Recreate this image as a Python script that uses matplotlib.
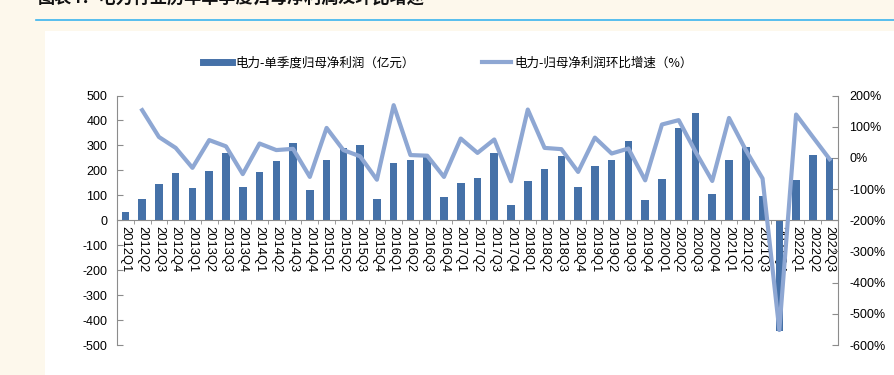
import numpy as np
import matplotlib
matplotlib.use("Agg")
import matplotlib.pyplot as plt
from matplotlib.patches import Rectangle
from matplotlib.lines import Line2D
from matplotlib.ticker import FuncFormatter

plt.rcParams['font.family'] = ['Liberation Sans', 'Noto Sans CJK SC', 'DejaVu Sans']
plt.rcParams['axes.unicode_minus'] = False

quarters = [f"{y}Q{q}" for y in range(2012, 2022) for q in range(1, 5)] + ["2022Q1", "2022Q2", "2022Q3"]

profit = [33, 87, 144, 191, 128, 199, 271, 134, 194, 239, 309, 123,
          243, 291, 303, 86, 230, 243, 254, 92, 148, 170, 270, 61,
          156, 205, 258, 132, 219, 243, 317, 80, 167, 370, 430, 106,
          241, 293, 98, -442, 162, 262, 251]

# QoQ growth (%), starting 2012Q2
growth = [153, 67, 32, -32, 57, 37, -52, 46, 25, 29, -61,
          96, 25, 5, -70, 169, 9, 7, -61, 62, 16, 59, -75,
          155, 32, 28, -45, 65, 14, 30, -72, 107, 121, 20, -74,
          128, 25, -66, -552, 139, 67, -4]

title = "图表4：电力行业历年单季度归母净利润及环比增速"
label_bar = "电力-单季度归母净利润（亿元）"
label_line = "电力-归母净利润环比增速（%）"

bar_color = '#4571A8'
line_color = '#8EA7D3'
gray = '#8C8C8C'

W, H = 894, 375
fig = plt.figure(figsize=(W / 100, H / 100), dpi=100, facecolor='#FDF8EC')
fig.patches.append(Rectangle((45 / W, 0), 1 - 45 / W, 1 - 31 / H, transform=fig.transFigure,
                             facecolor='white', edgecolor='none', zorder=-10))
fig.add_artist(Line2D([36 / W, 1], [1 - 20 / H] * 2, transform=fig.transFigure, color='#3AB4EE', lw=1.2))
fig.text(38 / W, 1 + 2 / H, title, fontsize=12.3, fontweight='bold', style='italic',
         va='center', ha='left', family=['Noto Sans CJK SC', 'DejaVu Sans'], color='#111111')

ax = fig.add_axes([117 / W, 1 - 345 / H, (838 - 117) / W, (345 - 95.5) / H])
ax.patch.set_visible(False)
x = np.arange(len(quarters))
ax.bar(x, profit, width=0.45, color=bar_color, zorder=2)
ax.set_xlim(-0.5, len(quarters) - 0.5)
ax.set_ylim(-500, 500)
ax.set_yticks(np.arange(-500, 501, 100))
ax.spines['top'].set_visible(False)
ax.spines['right'].set_visible(False)
ax.spines['bottom'].set_position(('data', 0))
ax.spines['bottom'].set_color(gray)
ax.spines['left'].set_color(gray)
ax.set_xticks(x)
ax.set_xticklabels(quarters, rotation=270, fontsize=9.3, ha='center', va='top')
ax.set_xticks(np.arange(0.5, len(quarters) - 1, 1), minor=True)
ax.tick_params(axis='x', which='major', length=0, pad=4.5)
ax.tick_params(axis='x', which='minor', length=3, direction='out', color=gray)
ax.tick_params(axis='y', direction='in', length=4, color=gray, labelsize=9, pad=7)

ax2 = ax.twinx()
ax2.patch.set_visible(False)
ax2.plot(x[1:], growth, color=line_color, lw=3, solid_joinstyle='round', zorder=3)
ax2.set_ylim(-600, 200)
ax2.set_yticks(np.arange(-600, 201, 100))
ax2.yaxis.set_major_formatter(FuncFormatter(lambda v, p: f"{int(v)}%"))
for s in ['top', 'left', 'bottom']:
    ax2.spines[s].set_visible(False)
ax2.spines['right'].set_color(gray)
ax2.tick_params(axis='y', direction='in', length=4, color=gray, labelsize=9, pad=8)

handles = [Line2D([], [], color=bar_color, lw=5), Line2D([], [], color=line_color, lw=3)]
fig.legend(handles, [label_bar, label_line], loc='center', bbox_to_anchor=(448 / W, 1 - 63 / H),
           ncol=2, frameon=False, prop={'family': ['Noto Sans CJK SC', 'DejaVu Sans'], 'size': 9},
           handlelength=2.3, handletextpad=0.3, columnspacing=5.4)

fig.savefig('out.png', dpi=100, facecolor=fig.get_facecolor())
